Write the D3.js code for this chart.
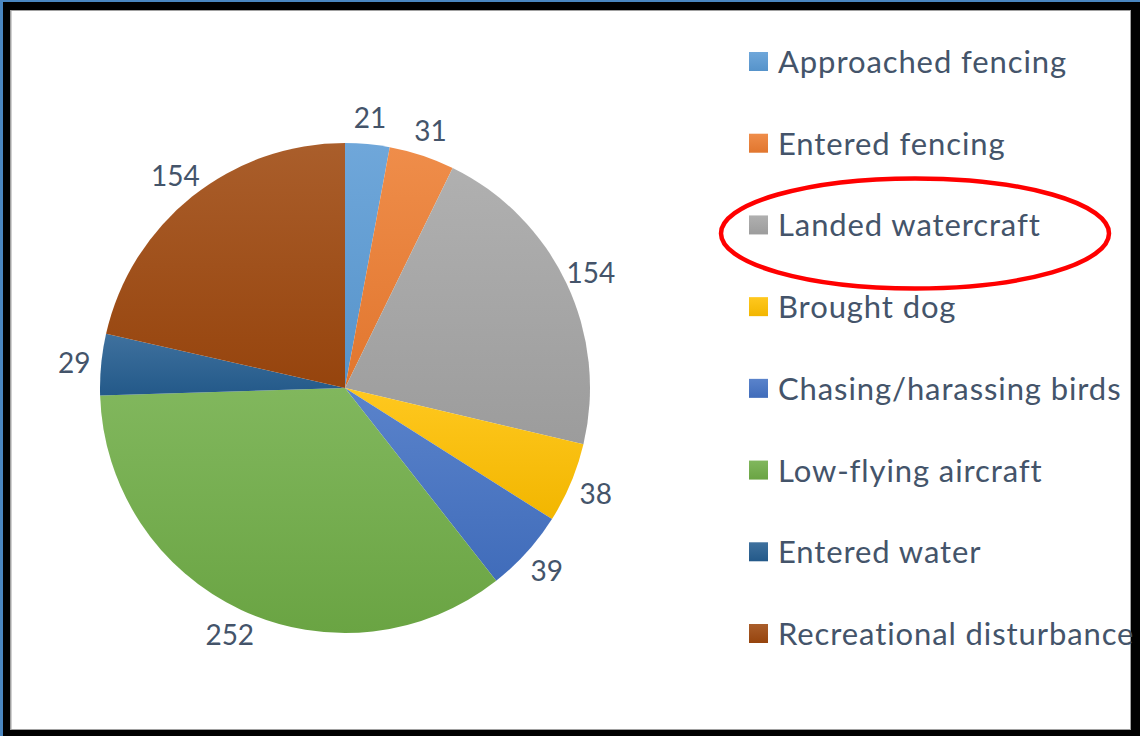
<!DOCTYPE html>
<html>
<head>
<meta charset="utf-8">
<script src="https://cdn.jsdelivr.net/npm/d3@7"></script>
<style>
  html, body { margin: 0; padding: 0; background: #fff; }
  svg { display: block; }
  .chart-labels { font-family: Lato, "Open Sans", sans-serif; fill: #44546a; }
</style>
</head>
<body>
<div id="disturbance-pie-chart"></div>
<script>
// data
const categories = [
  "Approached fencing",
  "Entered fencing",
  "Landed watercraft",
  "Brought dog",
  "Chasing/harassing birds",
  "Low-flying aircraft",
  "Entered water",
  "Recreational disturbance",
];
const counts = [21, 31, 154, 38, 39, 252, 29, 154];
const highlighted = "Landed watercraft";

// office-ish palette
const palette = ["#5b9bd5", "#ed7d31", "#a5a5a5", "#ffc000", "#4472c4", "#70ad47", "#255e91", "#9e480e"];

(function () {
  const W = 1140, H = 736;

  const svg = d3
    .select("#disturbance-pie-chart")
    .append("svg")
    .attr("width", W)
    .attr("height", H);

  /* ----------------------- Frame ----------------------- */
  svg.append("rect").attr("width", W).attr("height", H).attr("fill", "#4a86c0");
  svg.append("rect").attr("x", 3).attr("y", 2).attr("width", W - 3).attr("height", H - 2).attr("fill", "#000");
  svg.append("rect").attr("x", 10).attr("y", 10).attr("width", 1121).attr("height", 720).attr("fill", "#a0a0a0");
  svg.append("rect").attr("x", 11.5).attr("y", 11).attr("width", 1118.5).attr("height", 718).attr("fill", "#fff");

  const color = d3.scaleOrdinal().domain(categories).range(palette);

  // vertical gradient per category, lighter at the top
  const defs = svg.append("defs");
  categories.forEach((c, i) => {
    const g = defs
      .append("linearGradient")
      .attr("id", "grad-" + i)
      .attr("x1", 0).attr("y1", 0).attr("x2", 0).attr("y2", 1);
    g.append("stop").attr("offset", "0%").attr("stop-color", d3.interpolateRgb(color(c), "#fff")(0.12));
    g.append("stop").attr("offset", "100%").attr("stop-color", d3.color(color(c)).darker(0.15));
  });

  /* ----------------------- Pie ----------------------- */
  const cx = 345, cy = 388, radius = 245;
  const data = categories.map((c, i) => ({ name: c, value: counts[i], idx: i }));

  const pie = d3.pie().value((d) => d.value).sort(null);
  const arcs = pie(data);
  const arc = d3.arc().innerRadius(0).outerRadius(radius);
  const labelArc = d3.arc().innerRadius(radius + 27).outerRadius(radius + 27);

  const g = svg.append("g").attr("transform", `translate(${cx},${cy})`);

  g.selectAll(".slice")
    .data(arcs)
    .enter()
    .append("path")
    .attr("class", "slice")
    .attr("d", arc)
    .attr("fill", (d) => `url(#grad-${d.data.idx})`);

  g.selectAll(".value-label")
    .data(arcs)
    .enter()
    .append("text")
    .attr("class", "chart-labels value-label")
    .attr("transform", (d) => `translate(${labelArc.centroid(d)})`)
    .attr("text-anchor", "middle")
    .attr("dominant-baseline", "central")
    .style("font-size", "28px")
    .text((d) => d.data.value);

  /* ----------------------- Legend ----------------------- */
  const legendY = d3.scalePoint().domain(categories).range([61, 633]);

  const legend = svg
    .selectAll(".legend")
    .data(categories)
    .enter()
    .append("g")
    .attr("class", "legend")
    .attr("transform", (d) => `translate(749,${legendY(d)})`);

  legend
    .append("rect")
    .attr("x", 0)
    .attr("y", -9)
    .attr("width", 19)
    .attr("height", 19)
    .attr("fill", (d, i) => `url(#grad-${i})`);

  legend
    .append("text")
    .attr("class", "chart-labels")
    .attr("x", 29)
    .attr("dominant-baseline", "central")
    .style("font-size", "31px")
    .style("letter-spacing", "0.9px")
    .text((d) => d);

  // red ring around the highlighted entry
  svg
    .append("ellipse")
    .attr("cx", 915)
    .attr("cy", legendY(highlighted) + 9)
    .attr("rx", 194)
    .attr("ry", 55)
    .attr("fill", "none")
    .attr("stroke", "#f00")
    .attr("stroke-width", 4.5);
})();
</script>
</body>
</html>
